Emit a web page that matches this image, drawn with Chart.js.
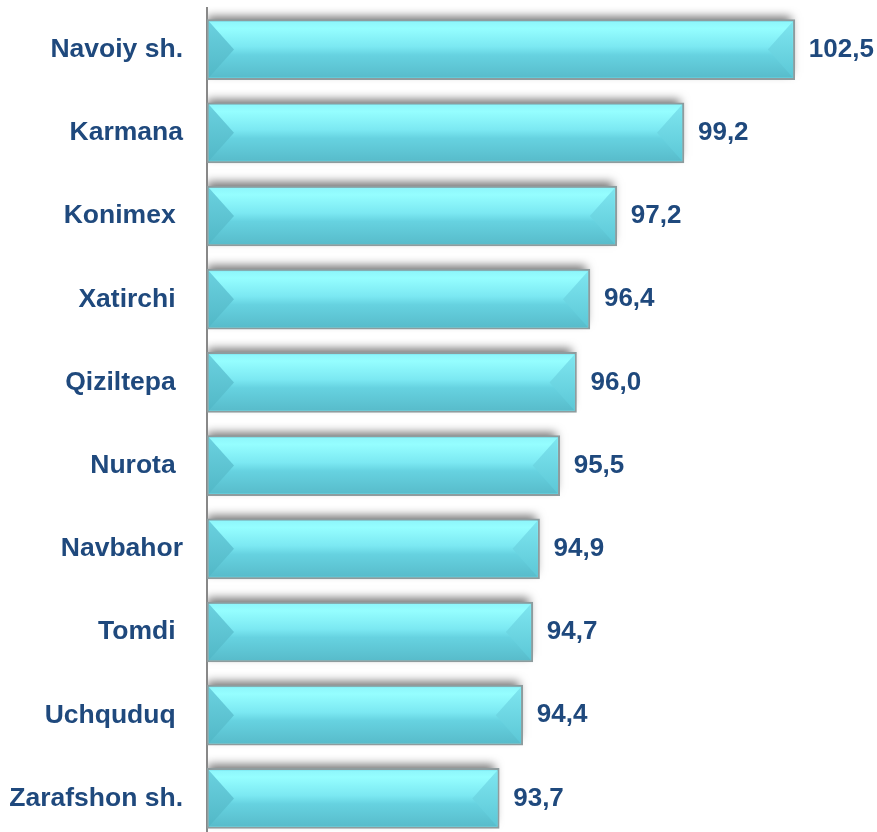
<!DOCTYPE html>
<html>
<head>
<meta charset="utf-8">
<script src="https://cdn.jsdelivr.net/npm/chart.js@4.4.1/dist/chart.umd.min.js"></script>
<style>
  html, body { margin: 0; padding: 0; background: #fff; overflow: hidden; }
  #wrap { width: 877px; height: 840px; position: relative; }
</style>
</head>
<body>
<div id="wrap"><canvas id="grafico"></canvas></div>
<script>
// tumanlar (trailing spaces kept as in the original labels)
const tumanlar = ['Navoiy sh.', 'Karmana', 'Konimex ', 'Xatirchi ', 'Qiziltepa ',
                  'Nurota ', 'Navbahor', 'Tomdi ', 'Uchquduq ', 'Zarafshon sh.'];
const qiymatlar = [102.5, 99.2, 97.2, 96.4, 96.0, 95.5, 94.9, 94.7, 94.4, 93.7];

const xMin = 85;
const xMax = 104.5;
const matnRangi = '#1F497D';
const shrift = 'Liberation Sans, Arial, sans-serif';

function barQutisi(el) {
    const p = el.getProps(['x', 'y', 'base', 'height'], true);
    return {
        left: Math.min(p.base, p.x),
        right: Math.max(p.base, p.x),
        top: p.y - p.height / 2,
        bottom: p.y + p.height / 2,
        x: p.x,
        y: p.y
    };
}

const bevelPlugin = {
    id: 'bevel',
    beforeDatasetsDraw(chart) {
        // soya: ustunlar ostiga chiziladi, keyin ustun ustidan yopadi
        const ctx = chart.ctx;
        const area = chart.chartArea;
        ctx.save();
        ctx.beginPath();
        ctx.rect(area.left + 1, 0, chart.width, chart.height);
        ctx.clip();
        ctx.shadowColor = 'rgba(0,0,0,0.55)';
        ctx.shadowBlur = 9;
        ctx.shadowOffsetX = 0;
        ctx.shadowOffsetY = -6;
        ctx.fillStyle = '#ffffff';
        chart.getDatasetMeta(0).data.forEach(el => {
            const q = barQutisi(el);
            ctx.fillRect(q.left, q.top + 2, q.right - q.left - 4, q.bottom - q.top - 2);
        });
        ctx.restore();
    },
    afterDatasetsDraw(chart) {
        const ctx = chart.ctx;
        const b = 2;
        chart.getDatasetMeta(0).data.forEach((el, i) => {
            const q = barQutisi(el);
            const left = q.left + b;
            const right = q.right - b;
            const top = q.top + b;
            const bottom = q.bottom - b;
            const d = 25;

            ctx.save();
            let g = ctx.createLinearGradient(0, top, 0, bottom);
            g.addColorStop(0, '#8ef6fb');
            g.addColorStop(0.12, '#95feff');
            g.addColorStop(0.45, '#7be8f2');
            g.addColorStop(0.6, '#66d2e0');
            g.addColorStop(1, '#58bccb');
            ctx.fillStyle = g;
            ctx.fillRect(left, top, right - left, bottom - top);

            // chap uchburchak
            g = ctx.createLinearGradient(0, top, 0, bottom);
            g.addColorStop(0, '#6ad1df');
            g.addColorStop(1, '#52b8c7');
            ctx.fillStyle = g;
            ctx.beginPath();
            ctx.moveTo(left, top);
            ctx.lineTo(left + d, q.y);
            ctx.lineTo(left, bottom);
            ctx.closePath();
            ctx.fill();

            // o'ng uchburchak
            g = ctx.createLinearGradient(0, top, 0, bottom);
            g.addColorStop(0, '#7ee6f0');
            g.addColorStop(1, '#5cc7d6');
            ctx.fillStyle = g;
            ctx.beginPath();
            ctx.moveTo(right, top);
            ctx.lineTo(right - d, q.y);
            ctx.lineTo(right, bottom);
            ctx.closePath();
            ctx.fill();

            // qiymat yorlig'i
            ctx.fillStyle = matnRangi;
            ctx.font = 'bold 26px ' + shrift;
            ctx.textAlign = 'left';
            ctx.textBaseline = 'middle';
            ctx.fillText(qiymatlar[i].toFixed(1).replace('.', ','), q.x + 14, q.y);
            ctx.restore();
        });
    }
};

const ctx = document.getElementById('grafico').getContext('2d');
new Chart(ctx, {
    type: 'bar',
    data: {
        labels: tumanlar,
        datasets: [{
            data: qiymatlar,
            base: xMin,
            backgroundColor: '#72dfeb',
            borderColor: '#8e9c9e',
            borderWidth: 2,
            borderSkipped: false,
            barThickness: 60
        }]
    },
    options: {
        indexAxis: 'y',
        responsive: true,
        maintainAspectRatio: false,
        animation: false,
        layout: { padding: { top: 8, right: 15, bottom: 0, left: 0 } },
        plugins: {
            legend: { display: false },
            tooltip: { enabled: false }
        },
        scales: {
            x: {
                display: false,
                min: xMin,
                max: xMax
            },
            y: {
                afterFit(scale) {
                    scale.width = 207;
                    scale.paddingTop = 0;
                    scale.paddingBottom = 0;
                },
                grid: { display: false, drawTicks: false },
                border: { display: true, color: '#888888', width: 2 },
                ticks: {
                    padding: 24,
                    color: matnRangi,
                    font: { family: shrift, size: 26.5, weight: 'bold' }
                }
            }
        }
    },
    plugins: [bevelPlugin]
});
</script>
</body>
</html>
